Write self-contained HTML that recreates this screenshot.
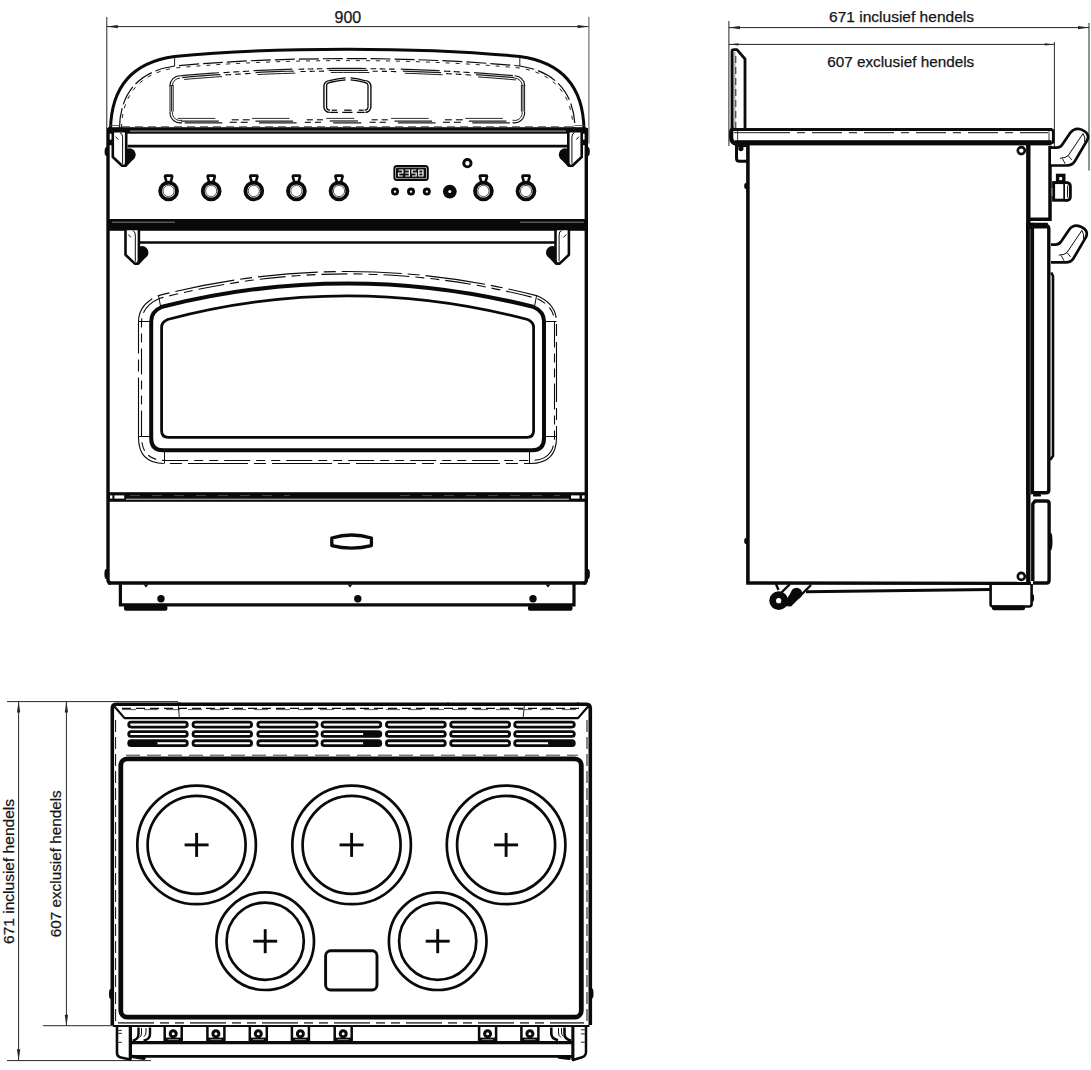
<!DOCTYPE html>
<html><head><meta charset="utf-8"><title>Range cooker dimensions</title>
<style>
html,body{margin:0;padding:0;background:#fff;}
body{width:1091px;height:1070px;overflow:hidden;font-family:"Liberation Sans",sans-serif;}
svg{display:block;}
svg text{font-family:"Liberation Sans",sans-serif;}
</style></head><body>
<svg width="1091" height="1070" viewBox="0 0 1091 1070">
<rect x="0" y="0" width="1091" height="1070" fill="#ffffff"/>
<line x1="106.8" y1="17" x2="106.8" y2="128" stroke="#262626" stroke-width="1.0" stroke-linecap="butt"/>
<line x1="588.9" y1="17" x2="588.9" y2="143.5" stroke="#555" stroke-width="1.0" stroke-linecap="butt"/>
<line x1="106.8" y1="26.6" x2="588.6" y2="26.6" stroke="#262626" stroke-width="1.0" stroke-linecap="butt"/>
<path d="M106.8,26.6 L117.8,24.900000000000002 L117.8,28.3 Z" fill="#262626"/>
<path d="M588.6,26.6 L577.6,24.900000000000002 L577.6,28.3 Z" fill="#262626"/>
<text x="347.9" y="23" font-size="16" text-anchor="middle" fill="#151515" stroke="#151515" stroke-width="0.25">900</text>
<path d="M110.5,130 C111,92 127,63 174.6,56.5 C240,50.2 300,49.2 347.3,49.2 C395,49.2 455,50.2 519.8,56.5 C567,63 583.5,92 584,130" stroke="#0a0a0a" stroke-width="3.0" fill="none" stroke-linejoin="round" stroke-linecap="butt"/>
<line x1="174.6" y1="56.5" x2="174.6" y2="66" stroke="#0a0a0a" stroke-width="0.9" stroke-linecap="butt"/>
<line x1="519.8" y1="56.5" x2="519.8" y2="66" stroke="#0a0a0a" stroke-width="0.9" stroke-linecap="butt"/>
<path d="M119.5,128 C120,98 134,72 174.6,66 C240,60 300,58.6 347.3,58.6 C395,58.6 455,60 519.8,66 C560,72 574.5,98 575,128" stroke="#0a0a0a" stroke-width="1.2" fill="none" stroke-linejoin="round" stroke-linecap="butt" stroke-dasharray="20 4"/>
<path d="M121.5,128 C122,99 136,74 174.6,68 C240,62 300,60.6 347.3,60.6 C395,60.6 455,62 519.8,68 C558,74 572.5,99 573,128" stroke="#0a0a0a" stroke-width="0.9" fill="none" stroke-linejoin="round" stroke-linecap="butt" stroke-dasharray="4 6"/>
<line x1="110" y1="125.5" x2="120" y2="125.5" stroke="#444" stroke-width="0.8" stroke-linecap="butt"/>
<line x1="574.5" y1="125.5" x2="584.5" y2="125.5" stroke="#444" stroke-width="0.8" stroke-linecap="butt"/>
<path d="M180.20,75.78 L186.67,75.22 L193.13,74.68 L199.60,74.17 L206.07,73.67 L212.53,73.20 L219.00,72.75" stroke="#1a1a1a" stroke-width="1.25" fill="none" stroke-linejoin="round" stroke-linecap="butt"/>
<path d="M182.20,77.51 L188.58,76.96 L194.97,76.44 L201.35,75.93 L207.73,75.45 L214.12,74.99 L220.50,74.55" stroke="#1a1a1a" stroke-width="1.25" fill="none" stroke-linejoin="round" stroke-linecap="butt"/>
<path d="M184.20,79.43 L190.50,78.90 L196.80,78.39 L203.10,77.90 L209.40,77.43 L215.70,76.98 L222.00,76.55" stroke="#1a1a1a" stroke-width="1.0" fill="none" stroke-linejoin="round" stroke-linecap="butt"/>
<path d="M253.50,70.73 L259.97,70.42 L266.43,70.13 L272.90,69.86 L279.37,69.62 L285.83,69.40 L292.30,69.20" stroke="#1a1a1a" stroke-width="1.25" fill="none" stroke-linejoin="round" stroke-linecap="butt"/>
<path d="M255.50,72.53 L261.88,72.23 L268.27,71.95 L274.65,71.70 L281.03,71.46 L287.42,71.25 L293.80,71.06" stroke="#1a1a1a" stroke-width="1.25" fill="none" stroke-linejoin="round" stroke-linecap="butt"/>
<path d="M257.50,74.53 L263.80,74.24 L270.10,73.98 L276.40,73.73 L282.70,73.50 L289.00,73.30 L295.30,73.11" stroke="#1a1a1a" stroke-width="1.0" fill="none" stroke-linejoin="round" stroke-linecap="butt"/>
<path d="M326.80,68.51 L333.38,68.45 L339.97,68.41 L346.55,68.40 L353.13,68.41 L359.72,68.44 L366.30,68.50" stroke="#1a1a1a" stroke-width="1.25" fill="none" stroke-linejoin="round" stroke-linecap="butt"/>
<path d="M328.80,70.39 L335.30,70.34 L341.80,70.31 L348.30,70.30 L354.80,70.31 L361.30,70.35 L367.80,70.41" stroke="#1a1a1a" stroke-width="1.25" fill="none" stroke-linejoin="round" stroke-linecap="butt"/>
<path d="M330.80,72.47 L337.22,72.43 L343.63,72.40 L350.05,72.40 L356.47,72.42 L362.88,72.46 L369.30,72.53" stroke="#1a1a1a" stroke-width="1.0" fill="none" stroke-linejoin="round" stroke-linecap="butt"/>
<path d="M400.80,69.16 L407.27,69.35 L413.73,69.57 L420.20,69.81 L426.67,70.07 L433.13,70.35 L439.60,70.65" stroke="#1a1a1a" stroke-width="1.25" fill="none" stroke-linejoin="round" stroke-linecap="butt"/>
<path d="M402.80,71.11 L409.18,71.31 L415.57,71.53 L421.95,71.77 L428.33,72.04 L434.72,72.32 L441.10,72.63" stroke="#1a1a1a" stroke-width="1.25" fill="none" stroke-linejoin="round" stroke-linecap="butt"/>
<path d="M404.80,73.27 L411.10,73.48 L417.40,73.70 L423.70,73.94 L430.00,74.21 L436.30,74.49 L442.60,74.80" stroke="#1a1a1a" stroke-width="1.0" fill="none" stroke-linejoin="round" stroke-linecap="butt"/>
<path d="M474.10,72.65 L480.57,73.10 L487.03,73.56 L493.50,74.05 L499.97,74.56 L506.43,75.10 L512.90,75.65" stroke="#1a1a1a" stroke-width="1.25" fill="none" stroke-linejoin="round" stroke-linecap="butt"/>
<path d="M476.10,74.69 L482.48,75.13 L488.87,75.60 L495.25,76.09 L501.63,76.60 L508.02,77.13 L514.40,77.68" stroke="#1a1a1a" stroke-width="1.25" fill="none" stroke-linejoin="round" stroke-linecap="butt"/>
<path d="M478.10,76.92 L484.40,77.37 L490.70,77.84 L497.00,78.32 L503.30,78.83 L509.60,79.36 L515.90,79.92" stroke="#1a1a1a" stroke-width="1.0" fill="none" stroke-linejoin="round" stroke-linecap="butt"/>
<path d="M223.50,72.65 L224.53,72.59 L225.56,72.52 L226.58,72.45 L227.61,72.39 L228.64,72.32 L229.67,72.26" stroke="#0a0a0a" stroke-width="1.1" fill="none" stroke-linejoin="round" stroke-linecap="butt"/>
<path d="M225.50,74.92 L226.44,74.86 L227.39,74.80 L228.33,74.74 L229.28,74.68 L230.22,74.62 L231.17,74.57" stroke="#0a0a0a" stroke-width="1.1" fill="none" stroke-linejoin="round" stroke-linecap="butt"/>
<path d="M233.17,72.04 L234.19,71.98 L235.22,71.92 L236.25,71.86 L237.28,71.80 L238.31,71.74 L239.33,71.68" stroke="#0a0a0a" stroke-width="1.1" fill="none" stroke-linejoin="round" stroke-linecap="butt"/>
<path d="M235.17,74.32 L236.11,74.27 L237.06,74.21 L238.00,74.16 L238.94,74.10 L239.89,74.05 L240.83,74.00" stroke="#0a0a0a" stroke-width="1.1" fill="none" stroke-linejoin="round" stroke-linecap="butt"/>
<path d="M242.83,71.49 L243.86,71.43 L244.89,71.37 L245.92,71.32 L246.94,71.26 L247.97,71.21 L249.00,71.15" stroke="#0a0a0a" stroke-width="1.1" fill="none" stroke-linejoin="round" stroke-linecap="butt"/>
<path d="M244.83,73.78 L245.78,73.72 L246.72,73.67 L247.67,73.62 L248.61,73.57 L249.56,73.53 L250.50,73.48" stroke="#0a0a0a" stroke-width="1.1" fill="none" stroke-linejoin="round" stroke-linecap="butt"/>
<path d="M298.50,69.23 L299.44,69.21 L300.39,69.18 L301.33,69.16 L302.28,69.14 L303.22,69.11 L304.17,69.09" stroke="#0a0a0a" stroke-width="1.1" fill="none" stroke-linejoin="round" stroke-linecap="butt"/>
<path d="M300.50,71.58 L301.36,71.56 L302.22,71.54 L303.08,71.52 L303.94,71.50 L304.81,71.48 L305.67,71.46" stroke="#0a0a0a" stroke-width="1.1" fill="none" stroke-linejoin="round" stroke-linecap="butt"/>
<path d="M307.67,69.02 L308.61,69.00 L309.56,68.98 L310.50,68.96 L311.44,68.94 L312.39,68.92 L313.33,68.91" stroke="#0a0a0a" stroke-width="1.1" fill="none" stroke-linejoin="round" stroke-linecap="butt"/>
<path d="M309.67,71.37 L310.53,71.36 L311.39,71.34 L312.25,71.32 L313.11,71.31 L313.97,71.29 L314.83,71.28" stroke="#0a0a0a" stroke-width="1.1" fill="none" stroke-linejoin="round" stroke-linecap="butt"/>
<path d="M316.83,68.85 L317.78,68.83 L318.72,68.82 L319.67,68.80 L320.61,68.79 L321.56,68.78 L322.50,68.76" stroke="#0a0a0a" stroke-width="1.1" fill="none" stroke-linejoin="round" stroke-linecap="butt"/>
<path d="M318.83,71.21 L319.69,71.20 L320.56,71.19 L321.42,71.18 L322.28,71.17 L323.14,71.15 L324.00,71.14" stroke="#0a0a0a" stroke-width="1.1" fill="none" stroke-linejoin="round" stroke-linecap="butt"/>
<path d="M370.60,68.74 L371.54,68.76 L372.49,68.77 L373.43,68.78 L374.38,68.79 L375.32,68.81 L376.27,68.82" stroke="#0a0a0a" stroke-width="1.1" fill="none" stroke-linejoin="round" stroke-linecap="butt"/>
<path d="M372.60,71.17 L373.46,71.18 L374.32,71.19 L375.18,71.21 L376.04,71.22 L376.91,71.23 L377.77,71.25" stroke="#0a0a0a" stroke-width="1.1" fill="none" stroke-linejoin="round" stroke-linecap="butt"/>
<path d="M379.77,68.88 L380.71,68.90 L381.66,68.91 L382.60,68.93 L383.54,68.95 L384.49,68.97 L385.43,68.98" stroke="#0a0a0a" stroke-width="1.1" fill="none" stroke-linejoin="round" stroke-linecap="butt"/>
<path d="M381.77,71.31 L382.63,71.33 L383.49,71.35 L384.35,71.36 L385.21,71.38 L386.07,71.40 L386.93,71.42" stroke="#0a0a0a" stroke-width="1.1" fill="none" stroke-linejoin="round" stroke-linecap="butt"/>
<path d="M388.93,69.06 L389.88,69.08 L390.82,69.10 L391.77,69.12 L392.71,69.15 L393.66,69.17 L394.60,69.19" stroke="#0a0a0a" stroke-width="1.1" fill="none" stroke-linejoin="round" stroke-linecap="butt"/>
<path d="M390.93,71.50 L391.79,71.52 L392.66,71.54 L393.52,71.56 L394.38,71.59 L395.24,71.61 L396.10,71.63" stroke="#0a0a0a" stroke-width="1.1" fill="none" stroke-linejoin="round" stroke-linecap="butt"/>
<path d="M444.10,71.08 L445.13,71.13 L446.16,71.18 L447.18,71.24 L448.21,71.29 L449.24,71.35 L450.27,71.40" stroke="#0a0a0a" stroke-width="1.1" fill="none" stroke-linejoin="round" stroke-linecap="butt"/>
<path d="M446.10,73.58 L447.04,73.63 L447.99,73.68 L448.93,73.73 L449.88,73.78 L450.82,73.83 L451.77,73.89" stroke="#0a0a0a" stroke-width="1.1" fill="none" stroke-linejoin="round" stroke-linecap="butt"/>
<path d="M453.77,71.60 L454.79,71.66 L455.82,71.71 L456.85,71.77 L457.88,71.83 L458.91,71.89 L459.93,71.95" stroke="#0a0a0a" stroke-width="1.1" fill="none" stroke-linejoin="round" stroke-linecap="butt"/>
<path d="M455.77,74.11 L456.71,74.16 L457.66,74.22 L458.60,74.28 L459.54,74.33 L460.49,74.39 L461.43,74.44" stroke="#0a0a0a" stroke-width="1.1" fill="none" stroke-linejoin="round" stroke-linecap="butt"/>
<path d="M463.43,72.17 L464.46,72.23 L465.49,72.29 L466.52,72.36 L467.54,72.42 L468.57,72.49 L469.60,72.55" stroke="#0a0a0a" stroke-width="1.1" fill="none" stroke-linejoin="round" stroke-linecap="butt"/>
<path d="M465.43,74.69 L466.38,74.75 L467.32,74.81 L468.27,74.87 L469.21,74.93 L470.16,74.99 L471.10,75.05" stroke="#0a0a0a" stroke-width="1.1" fill="none" stroke-linejoin="round" stroke-linecap="butt"/>
<line x1="184.7" y1="122.89999999999999" x2="222.3" y2="122.89999999999999" stroke="#1a1a1a" stroke-width="1.25" stroke-linecap="butt"/>
<line x1="181.2" y1="121.0" x2="218.8" y2="121.0" stroke="#1a1a1a" stroke-width="1.25" stroke-linecap="butt"/>
<line x1="177.7" y1="118.39999999999999" x2="215.3" y2="118.39999999999999" stroke="#1a1a1a" stroke-width="0.9" stroke-linecap="butt"/>
<line x1="259.0" y1="122.89999999999999" x2="296.6" y2="122.89999999999999" stroke="#1a1a1a" stroke-width="1.25" stroke-linecap="butt"/>
<line x1="255.5" y1="121.0" x2="293.1" y2="121.0" stroke="#1a1a1a" stroke-width="1.25" stroke-linecap="butt"/>
<line x1="252.0" y1="118.39999999999999" x2="289.6" y2="118.39999999999999" stroke="#1a1a1a" stroke-width="0.9" stroke-linecap="butt"/>
<line x1="333.2" y1="122.89999999999999" x2="361.4" y2="122.89999999999999" stroke="#1a1a1a" stroke-width="1.25" stroke-linecap="butt"/>
<line x1="329.7" y1="121.0" x2="357.9" y2="121.0" stroke="#1a1a1a" stroke-width="1.25" stroke-linecap="butt"/>
<line x1="326.2" y1="118.39999999999999" x2="354.4" y2="118.39999999999999" stroke="#1a1a1a" stroke-width="0.9" stroke-linecap="butt"/>
<line x1="398.0" y1="122.89999999999999" x2="435.6" y2="122.89999999999999" stroke="#1a1a1a" stroke-width="1.25" stroke-linecap="butt"/>
<line x1="394.5" y1="121.0" x2="432.1" y2="121.0" stroke="#1a1a1a" stroke-width="1.25" stroke-linecap="butt"/>
<line x1="391.0" y1="118.39999999999999" x2="428.6" y2="118.39999999999999" stroke="#1a1a1a" stroke-width="0.9" stroke-linecap="butt"/>
<line x1="472.3" y1="122.89999999999999" x2="509.9" y2="122.89999999999999" stroke="#1a1a1a" stroke-width="1.25" stroke-linecap="butt"/>
<line x1="468.8" y1="121.0" x2="506.4" y2="121.0" stroke="#1a1a1a" stroke-width="1.25" stroke-linecap="butt"/>
<line x1="465.3" y1="118.39999999999999" x2="502.9" y2="118.39999999999999" stroke="#1a1a1a" stroke-width="0.9" stroke-linecap="butt"/>
<line x1="229.7" y1="122.3" x2="236.7" y2="122.3" stroke="#0a0a0a" stroke-width="1.1" stroke-linecap="butt"/>
<line x1="231.7" y1="119.8" x2="238.7" y2="119.8" stroke="#0a0a0a" stroke-width="1.1" stroke-linecap="butt"/>
<line x1="240.7" y1="122.3" x2="247.7" y2="122.3" stroke="#0a0a0a" stroke-width="1.1" stroke-linecap="butt"/>
<line x1="242.7" y1="119.8" x2="249.7" y2="119.8" stroke="#0a0a0a" stroke-width="1.1" stroke-linecap="butt"/>
<line x1="304.8" y1="122.3" x2="310.9" y2="122.3" stroke="#0a0a0a" stroke-width="1.1" stroke-linecap="butt"/>
<line x1="306.8" y1="119.8" x2="312.9" y2="119.8" stroke="#0a0a0a" stroke-width="1.1" stroke-linecap="butt"/>
<line x1="314.9" y1="122.3" x2="321.0" y2="122.3" stroke="#0a0a0a" stroke-width="1.1" stroke-linecap="butt"/>
<line x1="316.9" y1="119.8" x2="323.0" y2="119.8" stroke="#0a0a0a" stroke-width="1.1" stroke-linecap="butt"/>
<line x1="369.6" y1="122.3" x2="375.70000000000005" y2="122.3" stroke="#0a0a0a" stroke-width="1.1" stroke-linecap="butt"/>
<line x1="371.6" y1="119.8" x2="377.70000000000005" y2="119.8" stroke="#0a0a0a" stroke-width="1.1" stroke-linecap="butt"/>
<line x1="379.70000000000005" y1="122.3" x2="385.80000000000007" y2="122.3" stroke="#0a0a0a" stroke-width="1.1" stroke-linecap="butt"/>
<line x1="381.70000000000005" y1="119.8" x2="387.80000000000007" y2="119.8" stroke="#0a0a0a" stroke-width="1.1" stroke-linecap="butt"/>
<line x1="442.9" y1="122.3" x2="449.9" y2="122.3" stroke="#0a0a0a" stroke-width="1.1" stroke-linecap="butt"/>
<line x1="444.9" y1="119.8" x2="451.9" y2="119.8" stroke="#0a0a0a" stroke-width="1.1" stroke-linecap="butt"/>
<line x1="453.9" y1="122.3" x2="460.9" y2="122.3" stroke="#0a0a0a" stroke-width="1.1" stroke-linecap="butt"/>
<line x1="455.9" y1="119.8" x2="462.9" y2="119.8" stroke="#0a0a0a" stroke-width="1.1" stroke-linecap="butt"/>
<line x1="170.0" y1="85" x2="170.0" y2="111.5" stroke="#1a1a1a" stroke-width="1.0" stroke-linecap="butt"/>
<line x1="524.6" y1="85" x2="524.6" y2="111.5" stroke="#1a1a1a" stroke-width="1.0" stroke-linecap="butt"/>
<line x1="171.6" y1="85" x2="171.6" y2="111.5" stroke="#1a1a1a" stroke-width="1.0" stroke-linecap="butt"/>
<line x1="523.0" y1="85" x2="523.0" y2="111.5" stroke="#1a1a1a" stroke-width="1.0" stroke-linecap="butt"/>
<line x1="173.2" y1="85" x2="173.2" y2="111.5" stroke="#1a1a1a" stroke-width="1.0" stroke-linecap="butt"/>
<line x1="521.4" y1="85" x2="521.4" y2="111.5" stroke="#1a1a1a" stroke-width="1.0" stroke-linecap="butt"/>
<path d="M170.0,85 V85.8 A10.0,10.0 0 0 1 180.0,75.8" stroke="#0a0a0a" stroke-width="1.1" fill="none" stroke-linejoin="round" stroke-linecap="butt"/>
<path d="M524.6,85 V85.8 A10.0,10.0 0 0 0 514.6,75.8" stroke="#0a0a0a" stroke-width="1.1" fill="none" stroke-linejoin="round" stroke-linecap="butt"/>
<path d="M170.0,111.5 V112.6 A10.0,10.0 0 0 0 182.0,122.6" stroke="#0a0a0a" stroke-width="1.1" fill="none" stroke-linejoin="round" stroke-linecap="butt"/>
<path d="M524.6,111.5 V112.6 A10.0,10.0 0 0 1 512.6,122.6" stroke="#0a0a0a" stroke-width="1.1" fill="none" stroke-linejoin="round" stroke-linecap="butt"/>
<path d="M172.4,85 V85.8 A7.6,7.6 0 0 1 180.0,78.2" stroke="#0a0a0a" stroke-width="0.9" fill="none" stroke-linejoin="round" stroke-linecap="butt"/>
<path d="M522.2,85 V85.8 A7.6,7.6 0 0 0 514.6,78.2" stroke="#0a0a0a" stroke-width="0.9" fill="none" stroke-linejoin="round" stroke-linecap="butt"/>
<path d="M172.4,111.5 V112.6 A7.6,7.6 0 0 0 182.0,120.19999999999999" stroke="#0a0a0a" stroke-width="0.9" fill="none" stroke-linejoin="round" stroke-linecap="butt"/>
<path d="M522.2,111.5 V112.6 A7.6,7.6 0 0 1 512.6,120.19999999999999" stroke="#0a0a0a" stroke-width="0.9" fill="none" stroke-linejoin="round" stroke-linecap="butt"/>
<line x1="122" y1="126.5" x2="573" y2="126.5" stroke="#555" stroke-width="0.8" stroke-linecap="butt" stroke-dasharray="8 5"/>
<path d="M329.5,80.6 A5.6,5.6 0 0 0 323.9,86.19999999999999 V106.80000000000001 A5.6,5.6 0 0 0 329.5,112.4" stroke="#0a0a0a" stroke-width="1.4" fill="none" stroke-linejoin="round" stroke-linecap="butt"/>
<path d="M365.29999999999995,80.6 A5.6,5.6 0 0 1 370.9,86.19999999999999 V106.80000000000001 A5.6,5.6 0 0 1 365.29999999999995,112.4" stroke="#0a0a0a" stroke-width="1.4" fill="none" stroke-linejoin="round" stroke-linecap="butt"/>
<path d="M330.0,82.6 A3.4,3.4 0 0 0 326.6,86.0 V106.8 A3.4,3.4 0 0 0 330.0,110.2" stroke="#0a0a0a" stroke-width="1.3" fill="none" stroke-linejoin="round" stroke-linecap="butt"/>
<path d="M364.6,82.6 A3.4,3.4 0 0 1 368.0,86.0 V106.8 A3.4,3.4 0 0 1 364.6,110.2" stroke="#0a0a0a" stroke-width="1.3" fill="none" stroke-linejoin="round" stroke-linecap="butt"/>
<path d="M329.4,80.6 Q338,78.4 345.6,77.9" stroke="#0a0a0a" stroke-width="1.3" fill="none" stroke-linejoin="round" stroke-linecap="butt"/>
<path d="M350.6,77.9 Q358,78.6 365.4,80.8" stroke="#0a0a0a" stroke-width="1.3" fill="none" stroke-linejoin="round" stroke-linecap="butt"/>
<line x1="329.8" y1="112.4" x2="337.9" y2="112.4" stroke="#0a0a0a" stroke-width="1.3" stroke-linecap="butt"/>
<line x1="342.3" y1="112.4" x2="352.5" y2="112.4" stroke="#0a0a0a" stroke-width="1.3" stroke-linecap="butt"/>
<line x1="356.9" y1="112.4" x2="364.6" y2="112.4" stroke="#0a0a0a" stroke-width="1.3" stroke-linecap="butt"/>
<path d="M329.4,82.5 Q338,80.30000000000001 345.6,79.80000000000001" stroke="#0a0a0a" stroke-width="1.3" fill="none" stroke-linejoin="round" stroke-linecap="butt"/>
<path d="M350.6,79.80000000000001 Q358,80.5 365.4,82.7" stroke="#0a0a0a" stroke-width="1.3" fill="none" stroke-linejoin="round" stroke-linecap="butt"/>
<line x1="331.7" y1="110.215" x2="336.95" y2="110.215" stroke="#0a0a0a" stroke-width="1.3" stroke-linecap="butt"/>
<line x1="344.2" y1="110.215" x2="351.55" y2="110.215" stroke="#0a0a0a" stroke-width="1.3" stroke-linecap="butt"/>
<line x1="358.79999999999995" y1="110.215" x2="363.65000000000003" y2="110.215" stroke="#0a0a0a" stroke-width="1.3" stroke-linecap="butt"/>
<path d="M108,128 V580 Q108,583 111,583" stroke="#0a0a0a" stroke-width="3.4" fill="none" stroke-linejoin="round" stroke-linecap="butt"/>
<path d="M586.3,128 V580 Q586.3,583 583.3,583" stroke="#0a0a0a" stroke-width="3.4" fill="none" stroke-linejoin="round" stroke-linecap="butt"/>
<rect x="108" y="127.2" width="478.29999999999995" height="6.5" rx="0" stroke="#0a0a0a" stroke-width="0" fill="#0a0a0a"/>
<line x1="130" y1="131.1" x2="566" y2="131.1" stroke="#c4c4c4" stroke-width="0.9" stroke-linecap="butt"/>
<line x1="127.5" y1="146.1" x2="567.2" y2="146.1" stroke="#0a0a0a" stroke-width="2.7" stroke-linecap="butt"/>
<rect x="108" y="219" width="478.29999999999995" height="11.8" rx="0" stroke="#0a0a0a" stroke-width="0" fill="#0a0a0a"/>
<line x1="112" y1="222.2" x2="175" y2="222.2" stroke="#aaa" stroke-width="0.7" stroke-linecap="butt"/>
<line x1="520" y1="222.2" x2="584" y2="222.2" stroke="#aaa" stroke-width="0.7" stroke-linecap="butt"/>
<line x1="140" y1="242.5" x2="555" y2="242.5" stroke="#0a0a0a" stroke-width="2.4" stroke-linecap="butt"/>
<rect x="108" y="492.2" width="478.29999999999995" height="9.6" rx="0" stroke="#0a0a0a" stroke-width="0" fill="#0a0a0a"/>
<line x1="110" y1="497" x2="112.4" y2="497" stroke="#fff" stroke-width="3.2" stroke-linecap="butt"/>
<line x1="114.4" y1="497" x2="124.2" y2="497" stroke="#fff" stroke-width="3.2" stroke-linecap="butt"/>
<line x1="571" y1="497" x2="579.5" y2="497" stroke="#fff" stroke-width="3.2" stroke-linecap="butt"/>
<line x1="582" y1="497" x2="584.6" y2="497" stroke="#fff" stroke-width="3.2" stroke-linecap="butt"/>
<line x1="130" y1="495.6" x2="290" y2="495.6" stroke="#777" stroke-width="0.6" stroke-linecap="butt" stroke-dasharray="10 12"/>
<line x1="126" y1="499.2" x2="569" y2="499.2" stroke="#d8d8d8" stroke-width="1.0" stroke-linecap="butt"/>
<line x1="400" y1="495.6" x2="560" y2="495.6" stroke="#777" stroke-width="0.6" stroke-linecap="butt" stroke-dasharray="10 12"/>
<ellipse cx="106.2" cy="574" rx="1.8" ry="5" fill="#0a0a0a"/>
<ellipse cx="588.1" cy="574" rx="1.8" ry="5" fill="#0a0a0a"/>
<line x1="108" y1="583" x2="586.3" y2="583" stroke="#0a0a0a" stroke-width="3.4" stroke-linecap="butt"/>
<path d="M120.4,584 V604.8 H574 V584" stroke="#0a0a0a" stroke-width="3.2" fill="none" stroke-linejoin="miter" stroke-linecap="butt"/>
<rect x="124" y="605.5" width="43.4" height="5.2" rx="1.8" stroke="#0a0a0a" stroke-width="0" fill="#0a0a0a"/>
<rect x="528" y="605.5" width="44.5" height="5.2" rx="1.8" stroke="#0a0a0a" stroke-width="0" fill="#0a0a0a"/>
<circle cx="161" cy="598.7" r="3.7" stroke="#0a0a0a" stroke-width="0" fill="#0a0a0a"/>
<circle cx="357.8" cy="598.7" r="3.7" stroke="#0a0a0a" stroke-width="0" fill="#0a0a0a"/>
<circle cx="533" cy="598.7" r="3.7" stroke="#0a0a0a" stroke-width="0" fill="#0a0a0a"/>
<path d="M143.5,584.5 L146,587.5 L148.5,584.5 Z" stroke="#0a0a0a" stroke-width="0" fill="#0a0a0a" stroke-linejoin="round" stroke-linecap="butt"/>
<path d="M347.5,584.5 L350,587.5 L352.5,584.5 Z" stroke="#0a0a0a" stroke-width="0" fill="#0a0a0a" stroke-linejoin="round" stroke-linecap="butt"/>
<path d="M545.5,584.5 L548,587.5 L550.5,584.5 Z" stroke="#0a0a0a" stroke-width="0" fill="#0a0a0a" stroke-linejoin="round" stroke-linecap="butt"/>
<path d="M331.8,538 Q351.6,532 371.4,538 V545.6 Q351.6,550.6 331.8,545.6 Z" stroke="#0a0a0a" stroke-width="3.3" fill="none" stroke-linejoin="round" stroke-linecap="butt"/>
<path d="M165.79999999999998,175.6 H171.4 Q172.6,175.6 172.0,177.4 L170.4,183.0 H166.79999999999998 L165.2,177.4 Q164.6,175.6 165.79999999999998,175.6 Z" stroke="#0a0a0a" stroke-width="2.6" fill="#fff" stroke-linejoin="round" stroke-linecap="butt"/>
<circle cx="168.6" cy="191.0" r="8.45" stroke="#0a0a0a" stroke-width="3.8" fill="none"/>
<circle cx="168.6" cy="191.0" r="5.6" stroke="#444" stroke-width="0.9" fill="none"/>
<path d="M208.39999999999998,175.6 H214.0 Q215.2,175.6 214.6,177.4 L213.0,183.0 H209.39999999999998 L207.79999999999998,177.4 Q207.2,175.6 208.39999999999998,175.6 Z" stroke="#0a0a0a" stroke-width="2.6" fill="#fff" stroke-linejoin="round" stroke-linecap="butt"/>
<circle cx="211.2" cy="191.0" r="8.45" stroke="#0a0a0a" stroke-width="3.8" fill="none"/>
<circle cx="211.2" cy="191.0" r="5.6" stroke="#444" stroke-width="0.9" fill="none"/>
<path d="M251.0,175.6 H256.6 Q257.8,175.6 257.2,177.4 L255.60000000000002,183.0 H252.0 L250.4,177.4 Q249.8,175.6 251.0,175.6 Z" stroke="#0a0a0a" stroke-width="2.6" fill="#fff" stroke-linejoin="round" stroke-linecap="butt"/>
<circle cx="253.8" cy="191.0" r="8.45" stroke="#0a0a0a" stroke-width="3.8" fill="none"/>
<circle cx="253.8" cy="191.0" r="5.6" stroke="#444" stroke-width="0.9" fill="none"/>
<path d="M293.59999999999997,175.6 H299.2 Q300.4,175.6 299.79999999999995,177.4 L298.2,183.0 H294.59999999999997 L293.0,177.4 Q292.4,175.6 293.59999999999997,175.6 Z" stroke="#0a0a0a" stroke-width="2.6" fill="#fff" stroke-linejoin="round" stroke-linecap="butt"/>
<circle cx="296.4" cy="191.0" r="8.45" stroke="#0a0a0a" stroke-width="3.8" fill="none"/>
<circle cx="296.4" cy="191.0" r="5.6" stroke="#444" stroke-width="0.9" fill="none"/>
<path d="M336.2,175.6 H341.8 Q343.0,175.6 342.4,177.4 L340.8,183.0 H337.2 L335.6,177.4 Q335.0,175.6 336.2,175.6 Z" stroke="#0a0a0a" stroke-width="2.6" fill="#fff" stroke-linejoin="round" stroke-linecap="butt"/>
<circle cx="339.0" cy="191.0" r="8.45" stroke="#0a0a0a" stroke-width="3.8" fill="none"/>
<circle cx="339.0" cy="191.0" r="5.6" stroke="#444" stroke-width="0.9" fill="none"/>
<path d="M480.59999999999997,175.6 H486.2 Q487.4,175.6 486.79999999999995,177.4 L485.2,183.0 H481.59999999999997 L480.0,177.4 Q479.4,175.6 480.59999999999997,175.6 Z" stroke="#0a0a0a" stroke-width="2.6" fill="#fff" stroke-linejoin="round" stroke-linecap="butt"/>
<circle cx="483.4" cy="191.0" r="8.45" stroke="#0a0a0a" stroke-width="3.8" fill="none"/>
<circle cx="483.4" cy="191.0" r="5.6" stroke="#444" stroke-width="0.9" fill="none"/>
<path d="M523.2,175.6 H528.8 Q530.0,175.6 529.4,177.4 L527.8,183.0 H524.2 L522.6,177.4 Q522.0,175.6 523.2,175.6 Z" stroke="#0a0a0a" stroke-width="2.6" fill="#fff" stroke-linejoin="round" stroke-linecap="butt"/>
<circle cx="526.0" cy="191.0" r="8.45" stroke="#0a0a0a" stroke-width="3.8" fill="none"/>
<circle cx="526.0" cy="191.0" r="5.6" stroke="#444" stroke-width="0.9" fill="none"/>
<rect x="394.4" y="166" width="33.4" height="14" rx="2.5" stroke="#0a0a0a" stroke-width="2.0" fill="none"/>
<rect x="396" y="167.6" width="30.2" height="10.8" rx="1.2" stroke="#0a0a0a" stroke-width="0" fill="#111"/>
<g stroke="#fff" stroke-width="1.2" fill="none"><path d="M398.6,170 h4.2 v3 h-4.2 v3 h4.2"/><path d="M405.2,170 h4.2 v6 h-4.2 M405.2,173 h4.2"/><path d="M416.2,170 h-4.2 v3 h4.2 v3 h-4.2"/><path d="M418.8,170 h4.2 v6 h-4.2 z M418.8,173 h4.2"/></g>
<circle cx="467.4" cy="163.2" r="3.65" stroke="#0a0a0a" stroke-width="2.9" fill="none"/>
<circle cx="395" cy="191.6" r="2.6" stroke="#0a0a0a" stroke-width="2.8" fill="none"/>
<circle cx="411" cy="191.6" r="2.6" stroke="#0a0a0a" stroke-width="2.8" fill="none"/>
<circle cx="426.8" cy="191.6" r="2.6" stroke="#0a0a0a" stroke-width="2.8" fill="none"/>
<circle cx="449.8" cy="191.6" r="6.9" stroke="#0a0a0a" stroke-width="0" fill="#0a0a0a"/>
<circle cx="449.8" cy="191.6" r="1.5" stroke="#0a0a0a" stroke-width="0" fill="#fff"/>
<circle cx="129.4" cy="154.6" r="6.3" stroke="#0a0a0a" stroke-width="0" fill="#0a0a0a"/>
<path d="M125.8,155.2 L134.8,157.7 L126.39999999999999,166.79999999999998 Z" stroke="#0a0a0a" stroke-width="0" fill="#0a0a0a" stroke-linejoin="round" stroke-linecap="butt"/>
<path d="M112.8,131.2 V157.0 L122.1,165.79999999999998 H125.6 L126.2,162.2 V131.2 Z" stroke="#0a0a0a" stroke-width="2.6" fill="#fff" stroke-linejoin="round" stroke-linecap="butt"/>
<path d="M120.0,132.79999999999998 Q122.6,133.2 122.6,137.2 V163.7" stroke="#0a0a0a" stroke-width="1.0" fill="none" stroke-linejoin="round" stroke-linecap="butt"/>
<line x1="115.6" y1="136.7" x2="118.2" y2="139.6" stroke="#0a0a0a" stroke-width="1.0" stroke-linecap="butt"/>
<circle cx="565.1" cy="154.6" r="6.3" stroke="#0a0a0a" stroke-width="0" fill="#0a0a0a"/>
<path d="M568.7,155.2 L559.7,157.7 L568.1,166.79999999999998 Z" stroke="#0a0a0a" stroke-width="0" fill="#0a0a0a" stroke-linejoin="round" stroke-linecap="butt"/>
<path d="M581.7,131.2 V157.0 L572.4000000000001,165.79999999999998 H568.9000000000001 L568.3000000000001,162.2 V131.2 Z" stroke="#0a0a0a" stroke-width="2.6" fill="#fff" stroke-linejoin="round" stroke-linecap="butt"/>
<path d="M574.5,132.79999999999998 Q571.9000000000001,133.2 571.9000000000001,137.2 V163.7" stroke="#0a0a0a" stroke-width="1.0" fill="none" stroke-linejoin="round" stroke-linecap="butt"/>
<line x1="578.9000000000001" y1="136.7" x2="576.3000000000001" y2="139.6" stroke="#0a0a0a" stroke-width="1.0" stroke-linecap="butt"/>
<circle cx="142.1" cy="252.4" r="6.3" stroke="#0a0a0a" stroke-width="0" fill="#0a0a0a"/>
<path d="M138.5,253 L147.5,255.5 L139.1,264.6 Z" stroke="#0a0a0a" stroke-width="0" fill="#0a0a0a" stroke-linejoin="round" stroke-linecap="butt"/>
<path d="M125.5,229 V254.8 L134.8,263.6 H138.3 L138.9,260 V229 Z" stroke="#0a0a0a" stroke-width="2.6" fill="#fff" stroke-linejoin="round" stroke-linecap="butt"/>
<path d="M132.7,230.6 Q135.3,231 135.3,235 V261.5" stroke="#0a0a0a" stroke-width="1.0" fill="none" stroke-linejoin="round" stroke-linecap="butt"/>
<line x1="128.3" y1="234.5" x2="130.9" y2="237.4" stroke="#0a0a0a" stroke-width="1.0" stroke-linecap="butt"/>
<circle cx="552.3" cy="252.4" r="6.3" stroke="#0a0a0a" stroke-width="0" fill="#0a0a0a"/>
<path d="M555.9,253 L546.9,255.5 L555.3,264.6 Z" stroke="#0a0a0a" stroke-width="0" fill="#0a0a0a" stroke-linejoin="round" stroke-linecap="butt"/>
<path d="M568.9,229 V254.8 L559.6,263.6 H556.1 L555.5,260 V229 Z" stroke="#0a0a0a" stroke-width="2.6" fill="#fff" stroke-linejoin="round" stroke-linecap="butt"/>
<path d="M561.6999999999999,230.6 Q559.1,231 559.1,235 V261.5" stroke="#0a0a0a" stroke-width="1.0" fill="none" stroke-linejoin="round" stroke-linecap="butt"/>
<line x1="566.1" y1="234.5" x2="563.5" y2="237.4" stroke="#0a0a0a" stroke-width="1.0" stroke-linecap="butt"/>
<ellipse cx="106.6" cy="151.5" rx="2" ry="4.6" fill="#0a0a0a"/>
<ellipse cx="587.8" cy="151.5" rx="2" ry="4.6" fill="#0a0a0a"/>
<rect x="109" y="139.6" width="3.2" height="5.6" rx="0" stroke="#0a0a0a" stroke-width="0" fill="#0a0a0a"/>
<rect x="582.6" y="139.6" width="3.2" height="5.6" rx="0" stroke="#0a0a0a" stroke-width="0" fill="#0a0a0a"/>
<path d="M138.5,437.5 V322.0 Q138.5,304 158.5,295.6 Q347.5,247.39999999999998 536.5,295.6 Q556.5,304 556.5,322.0 V437.5 Q556.5,463.5 530.5,463.5 H164.5 Q138.5,463.5 138.5,437.5 Z" stroke="#0a0a0a" stroke-width="1.1" fill="none" stroke-linejoin="round" stroke-linecap="butt" stroke-dasharray="60 6 12 6"/>
<path d="M141.5,436.5 V322.65 Q141.5,306 160.0,298.23 Q348.0,249.56999999999994 536.0,298.23 Q554.5,306 554.5,322.65 V436.5 Q554.5,460.5 530.5,460.5 H165.5 Q141.5,460.5 141.5,436.5 Z" stroke="#0a0a0a" stroke-width="1.1" fill="none" stroke-linejoin="round" stroke-linecap="butt" stroke-dasharray="26 6 9 6 9 6"/>
<line x1="138.5" y1="321.5" x2="150" y2="321.5" stroke="#0a0a0a" stroke-width="1.0" stroke-linecap="butt"/>
<line x1="138.5" y1="436.5" x2="150" y2="436.5" stroke="#0a0a0a" stroke-width="1.0" stroke-linecap="butt"/>
<line x1="545" y1="321.5" x2="556.5" y2="321.5" stroke="#0a0a0a" stroke-width="1.0" stroke-linecap="butt"/>
<line x1="545" y1="436.5" x2="556.5" y2="436.5" stroke="#0a0a0a" stroke-width="1.0" stroke-linecap="butt"/>
<line x1="164.5" y1="451" x2="164.5" y2="463.5" stroke="#0a0a0a" stroke-width="1.0" stroke-linecap="butt"/>
<line x1="529.5" y1="451" x2="529.5" y2="463.5" stroke="#0a0a0a" stroke-width="1.0" stroke-linecap="butt"/>
<line x1="158.6" y1="296" x2="160.5" y2="306" stroke="#0a0a0a" stroke-width="1.0" stroke-linecap="butt"/>
<line x1="536.5" y1="296" x2="534.6" y2="306" stroke="#0a0a0a" stroke-width="1.0" stroke-linecap="butt"/>
<path d="M151.2,438.2 V321.29999999999995 Q151.2,311.4 162.2,306.78 Q347.6,260.02 533,306.78 Q544,311.4 544,321.29999999999995 V438.2 Q544,450.2 532,450.2 H163.2 Q151.2,450.2 151.2,438.2 Z" stroke="#0a0a0a" stroke-width="4.0" fill="none" stroke-linejoin="round" stroke-linecap="butt"/>
<path d="M161.6,430.8 V327.4 Q161.6,322 167.6,319.48 Q347.6,272.12 527.6,319.48 Q533.6,322 533.6,327.4 V430.8 Q533.6,437.3 527.1,437.3 H168.1 Q161.6,437.3 161.6,430.8 Z" stroke="#0a0a0a" stroke-width="2.8" fill="none" stroke-linejoin="round" stroke-linecap="butt"/>
<line x1="728.9" y1="21" x2="728.9" y2="146" stroke="#262626" stroke-width="1.0" stroke-linecap="butt"/>
<line x1="1054.4" y1="42" x2="1054.4" y2="146.8" stroke="#262626" stroke-width="1.0" stroke-linecap="butt"/>
<line x1="1089" y1="23" x2="1089" y2="170.5" stroke="#262626" stroke-width="1.0" stroke-linecap="butt"/>
<line x1="728.9" y1="27.6" x2="1089" y2="27.6" stroke="#262626" stroke-width="1.0" stroke-linecap="butt"/>
<line x1="728.9" y1="44.4" x2="1054.4" y2="44.4" stroke="#262626" stroke-width="1.0" stroke-linecap="butt"/>
<path d="M728.9,27.6 L739.9,25.900000000000002 L739.9,29.3 Z" fill="#262626"/>
<path d="M1089,27.6 L1078,25.900000000000002 L1078,29.3 Z" fill="#262626"/>
<path d="M728.9,44.4 L738.5,43.199999999999996 L738.5,45.6 Z" fill="#262626"/>
<path d="M1054.4,44.4 L1044.8000000000002,43.199999999999996 L1044.8000000000002,45.6 Z" fill="#262626"/>
<text x="901.5" y="21.5" font-size="15" text-anchor="middle" fill="#151515" stroke="#151515" stroke-width="0.25" textLength="145" lengthAdjust="spacingAndGlyphs">671 inclusief hendels</text>
<text x="900.7" y="67" font-size="15" text-anchor="middle" fill="#151515" stroke="#151515" stroke-width="0.25" textLength="147" lengthAdjust="spacingAndGlyphs">607 exclusief hendels</text>
<rect x="733" y="52" width="2.6" height="76" rx="0" stroke="#0a0a0a" stroke-width="0" fill="#bbb"/>
<path d="M732,128 V51.5 Q732,49.6 734,49.6 H737 L745,59 V128" stroke="#0a0a0a" stroke-width="2.8" fill="none" stroke-linejoin="round" stroke-linecap="butt"/>
<line x1="735.8" y1="56" x2="735.8" y2="128" stroke="#0a0a0a" stroke-width="0.9" stroke-linecap="butt" stroke-dasharray="7 4"/>
<path d="M734,129.6 H1051 Q1053.2,129.6 1053.2,132 V141 Q1053.2,143 1051,143 H737" stroke="#0a0a0a" stroke-width="2.6" fill="none" stroke-linejoin="round" stroke-linecap="butt"/>
<path d="M733.5,128.8 Q731.2,129 731.2,133 V137.5 Q731.2,142.6 736,143.6" stroke="#0a0a0a" stroke-width="4.2" fill="none" stroke-linejoin="round" stroke-linecap="butt"/>
<rect x="732.5" y="128.1" width="319.5" height="2.9" rx="0" stroke="#0a0a0a" stroke-width="0" fill="#0a0a0a"/>
<rect x="735" y="140.2" width="316.5" height="5.2" rx="0" stroke="#0a0a0a" stroke-width="0" fill="#0a0a0a"/>
<line x1="734" y1="132.7" x2="760" y2="132.7" stroke="#0a0a0a" stroke-width="0.9" stroke-linecap="butt"/>
<line x1="760" y1="132.7" x2="1048" y2="132.7" stroke="#0a0a0a" stroke-width="1.0" stroke-linecap="butt" stroke-dasharray="30 7 8 7"/>
<line x1="1049" y1="131" x2="1049" y2="141" stroke="#0a0a0a" stroke-width="0.8" stroke-linecap="butt"/>
<line x1="737.6" y1="131" x2="737.6" y2="141" stroke="#0a0a0a" stroke-width="0.8" stroke-linecap="butt"/>
<path d="M736.5,145 V158.5 Q736.5,161.2 739.5,161.2 H747" stroke="#0a0a0a" stroke-width="3.0" fill="none" stroke-linejoin="round" stroke-linecap="butt"/>
<rect x="736" y="144.5" width="12" height="2.6" rx="0" stroke="#0a0a0a" stroke-width="0" fill="#0a0a0a"/>
<circle cx="740.9" cy="148.6" r="2.6" stroke="#0a0a0a" stroke-width="0" fill="#0a0a0a"/>
<line x1="747.9" y1="145" x2="747.9" y2="583" stroke="#0a0a0a" stroke-width="3.6" stroke-linecap="butt"/>
<ellipse cx="745.8" cy="186" rx="1.6" ry="3" fill="#0a0a0a"/>
<ellipse cx="745.8" cy="541" rx="1.6" ry="3" fill="#0a0a0a"/>
<line x1="746.2" y1="583" x2="1031" y2="583.4" stroke="#0a0a0a" stroke-width="3.4" stroke-linecap="butt"/>
<line x1="806" y1="591.8" x2="990" y2="589.6" stroke="#0a0a0a" stroke-width="3.0" stroke-linecap="butt"/>
<circle cx="778.7" cy="600.7" r="6.0" stroke="#0a0a0a" stroke-width="6.8" fill="none"/>
<circle cx="778.7" cy="600.7" r="2.3" stroke="#0a0a0a" stroke-width="0" fill="#fff"/>
<circle cx="796.5" cy="593.3" r="5.6" stroke="#0a0a0a" stroke-width="0" fill="#0a0a0a"/>
<path d="M791,592 L801.5,596 L791,606.5 L783,606 Z" stroke="#0a0a0a" stroke-width="0" fill="#0a0a0a" stroke-linejoin="round" stroke-linecap="butt"/>
<line x1="776" y1="584" x2="778.5" y2="590" stroke="#0a0a0a" stroke-width="2.4" stroke-linecap="butt"/>
<line x1="790" y1="584" x2="780.5" y2="593.5" stroke="#0a0a0a" stroke-width="2.4" stroke-linecap="butt"/>
<line x1="811" y1="585" x2="798" y2="598" stroke="#0a0a0a" stroke-width="2.4" stroke-linecap="butt"/>
<rect x="1026.1" y="145" width="4.4" height="438" rx="0" stroke="#0a0a0a" stroke-width="0" fill="#0a0a0a"/>
<path d="M1028,219.2 H1050 V146" stroke="#0a0a0a" stroke-width="3.5" fill="none" stroke-linejoin="miter" stroke-linecap="butt"/>
<circle cx="1021.3" cy="150.6" r="3.5" stroke="#0a0a0a" stroke-width="2.6" fill="none"/>
<circle cx="1021.3" cy="576.4" r="3.5" stroke="#0a0a0a" stroke-width="2.6" fill="none"/>
<rect x="1026.1" y="222.8" width="8" height="271.5" rx="0" stroke="#0a0a0a" stroke-width="0" fill="#0a0a0a"/>
<line x1="1030.2" y1="229" x2="1030.2" y2="494" stroke="#999" stroke-width="0.6" stroke-linecap="butt"/>
<path d="M1030,225.6 H1046 Q1048.8,225.6 1048.8,229 V490 Q1048.8,492.8 1046,492.8 H1034" stroke="#0a0a0a" stroke-width="3.4" fill="none" stroke-linejoin="round" stroke-linecap="butt"/>
<rect x="1033" y="494" width="8" height="2.6" rx="1.2" stroke="#0a0a0a" stroke-width="0" fill="#0a0a0a"/>
<rect x="1030" y="222.8" width="18" height="5.6" rx="1" stroke="#0a0a0a" stroke-width="0" fill="#0a0a0a"/>
<path d="M1051.2,272.5 L1053,276 V456 L1050,460" stroke="#0a0a0a" stroke-width="2.6" fill="none" stroke-linejoin="round" stroke-linecap="butt"/>
<path d="M1032.8,581 V504 L1035,501 H1046.6 Q1049.1,501 1049.1,503.6 V580 Q1049.1,583 1046.6,583 H1033" stroke="#0a0a0a" stroke-width="3.4" fill="none" stroke-linejoin="round" stroke-linecap="butt"/>
<ellipse cx="1050.9" cy="541.5" rx="1.6" ry="9" fill="#0a0a0a"/>
<path d="M990.6,584 V604 Q990.6,606.5 993,606.5 H1029 Q1031.6,606.5 1031.6,604 V584" stroke="#0a0a0a" stroke-width="2.6" fill="none" stroke-linejoin="round" stroke-linecap="butt"/>
<rect x="992" y="605.4" width="33" height="4.8" rx="2" stroke="#0a0a0a" stroke-width="0" fill="#0a0a0a"/>
<ellipse cx="1032.5" cy="598" rx="1.6" ry="4" fill="#0a0a0a"/>
<path d="M1051,147.7 H1056.50 Q1060.00,147.7 1062.00,145 L1070.30,132.8 Q1074.00,128 1079.50,129 Q1090.50,132.5 1087.30,140 L1074.60,161.6 Q1072.00,165.5 1067.00,165.5 H1051" stroke="#0a0a0a" stroke-width="2.7" fill="#fff" stroke-linejoin="round" stroke-linecap="butt"/>
<path d="M1060.00,158.3 Q1066.00,158 1068.20,155.6 L1083.00,133.6" stroke="#0a0a0a" stroke-width="1.0" fill="none" stroke-linejoin="round" stroke-linecap="butt"/>
<path d="M1083.00,133.4 Q1085.50,137 1084.80,142" stroke="#0a0a0a" stroke-width="1.0" fill="none" stroke-linejoin="round" stroke-linecap="butt"/>
<path d="M1068.20,155.6 L1071.80,160" stroke="#0a0a0a" stroke-width="0.9" fill="none" stroke-linejoin="round" stroke-linecap="butt"/>
<path d="M1062.40,158.6 L1065.20,163.8" stroke="#0a0a0a" stroke-width="0.9" fill="none" stroke-linejoin="round" stroke-linecap="butt"/>
<path d="M1051,244.6 H1055.30 Q1058.80,244.6 1060.80,241.9 L1069.10,229.70000000000002 Q1072.80,224.9 1078.30,225.9 Q1089.30,229.4 1086.10,236.9 L1073.40,258.5 Q1070.80,262.4 1065.80,262.4 H1051" stroke="#0a0a0a" stroke-width="2.7" fill="#fff" stroke-linejoin="round" stroke-linecap="butt"/>
<path d="M1058.80,255.20000000000002 Q1064.80,254.9 1067.00,252.5 L1081.80,230.5" stroke="#0a0a0a" stroke-width="1.0" fill="none" stroke-linejoin="round" stroke-linecap="butt"/>
<path d="M1081.80,230.3 Q1084.30,233.9 1083.60,238.9" stroke="#0a0a0a" stroke-width="1.0" fill="none" stroke-linejoin="round" stroke-linecap="butt"/>
<path d="M1067.00,252.5 L1070.60,256.9" stroke="#0a0a0a" stroke-width="0.9" fill="none" stroke-linejoin="round" stroke-linecap="butt"/>
<path d="M1061.20,255.5 L1064.00,260.70000000000005" stroke="#0a0a0a" stroke-width="0.9" fill="none" stroke-linejoin="round" stroke-linecap="butt"/>
<rect x="1053.6" y="182.6" width="11.2" height="17.6" rx="0" stroke="#0a0a0a" stroke-width="3.0" fill="#fff"/>
<path d="M1065,182.6 H1067.5 Q1070.4,183.4 1070.4,186.5 V196.5 Q1070.4,199.6 1067.5,200.4 H1065" stroke="#0a0a0a" stroke-width="2.8" fill="#fff" stroke-linejoin="round" stroke-linecap="butt"/>
<line x1="1067.6" y1="185.5" x2="1067.6" y2="197.5" stroke="#0a0a0a" stroke-width="1.0" stroke-linecap="butt"/>
<rect x="1057.6" y="175.4" width="6.2" height="6.4" rx="0" stroke="#0a0a0a" stroke-width="3.4" fill="#fff"/>
<rect x="1056.2" y="174.2" width="9" height="2.4" rx="1" stroke="#0a0a0a" stroke-width="0" fill="#0a0a0a"/>
<line x1="1052" y1="188" x2="1052" y2="196" stroke="#777" stroke-width="1.6" stroke-linecap="butt"/>
<line x1="7" y1="701.6" x2="178" y2="701.6" stroke="#262626" stroke-width="1.0" stroke-linecap="butt"/>
<line x1="43" y1="1025.7" x2="117" y2="1025.7" stroke="#262626" stroke-width="1.0" stroke-linecap="butt"/>
<line x1="7" y1="1060.6" x2="151" y2="1060.6" stroke="#262626" stroke-width="1.0" stroke-linecap="butt"/>
<line x1="18.6" y1="701.6" x2="18.6" y2="1060.2" stroke="#262626" stroke-width="1.0" stroke-linecap="butt"/>
<line x1="66.4" y1="701.6" x2="66.4" y2="1025.7" stroke="#262626" stroke-width="1.0" stroke-linecap="butt"/>
<path d="M18.6,701.6 L16.900000000000002,712.6 L20.3,712.6 Z" fill="#262626"/>
<path d="M18.6,1060.2 L16.900000000000002,1049.2 L20.3,1049.2 Z" fill="#262626"/>
<path d="M66.4,701.6 L64.7,712.6 L68.10000000000001,712.6 Z" fill="#262626"/>
<path d="M66.4,1025.7 L64.7,1014.7 L68.10000000000001,1014.7 Z" fill="#262626"/>
<text x="13.6" y="871.5" font-size="15" text-anchor="middle" fill="#151515" stroke="#151515" stroke-width="0.25" textLength="145" lengthAdjust="spacingAndGlyphs" transform="rotate(-90 13.6 871.5)">671 inclusief hendels</text>
<text x="60.9" y="863.8" font-size="15" text-anchor="middle" fill="#151515" stroke="#151515" stroke-width="0.25" textLength="147" lengthAdjust="spacingAndGlyphs" transform="rotate(-90 60.9 863.8)">607 exclusief hendels</text>
<path d="M112.3,1025 V708.5 Q112.3,704.3 116,704.3 H586.6 Q590.3,704.3 590.3,708.5 V1025" stroke="#0a0a0a" stroke-width="3.6" fill="none" stroke-linejoin="round" stroke-linecap="butt"/>
<ellipse cx="110.5" cy="994" rx="1.5" ry="5" fill="#0a0a0a"/>
<ellipse cx="592" cy="993.5" rx="1.5" ry="5" fill="#0a0a0a"/>
<path d="M114,706 L124.5,718.1 H578 L588.5,706" stroke="#0a0a0a" stroke-width="2.2" fill="none" stroke-linejoin="round" stroke-linecap="butt"/>
<line x1="122" y1="708.4" x2="582" y2="708.4" stroke="#0a0a0a" stroke-width="1.1" stroke-linecap="butt" stroke-dasharray="9 5"/>
<line x1="122" y1="709.6" x2="582" y2="709.6" stroke="#555" stroke-width="1.0" stroke-linecap="butt" stroke-dasharray="14 8"/>
<line x1="178" y1="702" x2="179.5" y2="719" stroke="#0a0a0a" stroke-width="0.9" stroke-linecap="butt"/>
<line x1="524.5" y1="704" x2="523" y2="719" stroke="#0a0a0a" stroke-width="0.9" stroke-linecap="butt"/>
<path d="M177.5,704.5 L180,702 L182.5,704.5 Z" stroke="#0a0a0a" stroke-width="0" fill="#0a0a0a" stroke-linejoin="round" stroke-linecap="butt"/>
<path d="M445.5,704.5 L448,702 L450.5,704.5 Z" stroke="#0a0a0a" stroke-width="0" fill="#0a0a0a" stroke-linejoin="round" stroke-linecap="butt"/>
<path d="M575.5,704.5 L578,702 L580.5,704.5 Z" stroke="#0a0a0a" stroke-width="0" fill="#0a0a0a" stroke-linejoin="round" stroke-linecap="butt"/>
<line x1="115.6" y1="720" x2="115.6" y2="1022" stroke="#0a0a0a" stroke-width="1.0" stroke-linecap="butt" stroke-dasharray="12 5"/>
<line x1="587" y1="720" x2="587" y2="1022" stroke="#0a0a0a" stroke-width="1.0" stroke-linecap="butt" stroke-dasharray="12 5"/>
<rect x="128.7" y="722.15" width="58.6" height="4.9" rx="2.45" stroke="#0a0a0a" stroke-width="2.8" fill="none"/>
<rect x="128.7" y="731.55" width="58.6" height="4.9" rx="2.45" stroke="#0a0a0a" stroke-width="2.8" fill="none"/>
<rect x="128.7" y="740.75" width="58.6" height="4.9" rx="2.45" stroke="#0a0a0a" stroke-width="2.8" fill="none"/>
<rect x="193.0" y="722.15" width="58.6" height="4.9" rx="2.45" stroke="#0a0a0a" stroke-width="2.8" fill="none"/>
<rect x="193.0" y="731.55" width="58.6" height="4.9" rx="2.45" stroke="#0a0a0a" stroke-width="2.8" fill="none"/>
<rect x="193.0" y="740.75" width="58.6" height="4.9" rx="2.45" stroke="#0a0a0a" stroke-width="2.8" fill="none"/>
<rect x="257.8" y="722.15" width="59.399999999999956" height="4.9" rx="2.45" stroke="#0a0a0a" stroke-width="2.8" fill="none"/>
<rect x="257.8" y="731.55" width="59.399999999999956" height="4.9" rx="2.45" stroke="#0a0a0a" stroke-width="2.8" fill="none"/>
<rect x="257.8" y="740.75" width="59.399999999999956" height="4.9" rx="2.45" stroke="#0a0a0a" stroke-width="2.8" fill="none"/>
<rect x="322.0" y="722.15" width="58.79999999999999" height="4.9" rx="2.45" stroke="#0a0a0a" stroke-width="2.8" fill="none"/>
<rect x="322.0" y="731.55" width="58.79999999999999" height="4.9" rx="2.45" stroke="#0a0a0a" stroke-width="2.8" fill="none"/>
<rect x="322.0" y="740.75" width="58.79999999999999" height="4.9" rx="2.45" stroke="#0a0a0a" stroke-width="2.8" fill="none"/>
<rect x="386.4" y="722.15" width="58.90000000000001" height="4.9" rx="2.45" stroke="#0a0a0a" stroke-width="2.8" fill="none"/>
<rect x="386.4" y="731.55" width="58.90000000000001" height="4.9" rx="2.45" stroke="#0a0a0a" stroke-width="2.8" fill="none"/>
<rect x="386.4" y="740.75" width="58.90000000000001" height="4.9" rx="2.45" stroke="#0a0a0a" stroke-width="2.8" fill="none"/>
<rect x="450.7" y="722.15" width="58.90000000000001" height="4.9" rx="2.45" stroke="#0a0a0a" stroke-width="2.8" fill="none"/>
<rect x="450.7" y="731.55" width="58.90000000000001" height="4.9" rx="2.45" stroke="#0a0a0a" stroke-width="2.8" fill="none"/>
<rect x="450.7" y="740.75" width="58.90000000000001" height="4.9" rx="2.45" stroke="#0a0a0a" stroke-width="2.8" fill="none"/>
<rect x="514.7" y="722.15" width="59.6" height="4.9" rx="2.45" stroke="#0a0a0a" stroke-width="2.8" fill="none"/>
<rect x="514.7" y="731.55" width="59.6" height="4.9" rx="2.45" stroke="#0a0a0a" stroke-width="2.8" fill="none"/>
<rect x="514.7" y="740.75" width="59.6" height="4.9" rx="2.45" stroke="#0a0a0a" stroke-width="2.8" fill="none"/>
<rect x="129.5" y="741.3" width="28" height="3.8" rx="1.9" stroke="#0a0a0a" stroke-width="0" fill="#0a0a0a"/>
<rect x="363" y="732.1" width="17" height="3.8" rx="1.9" stroke="#0a0a0a" stroke-width="0" fill="#0a0a0a"/>
<rect x="363" y="741.3" width="17" height="3.8" rx="1.9" stroke="#0a0a0a" stroke-width="0" fill="#0a0a0a"/>
<rect x="548" y="741.3" width="25" height="3.8" rx="1.9" stroke="#0a0a0a" stroke-width="0" fill="#0a0a0a"/>
<line x1="126" y1="755.2" x2="578" y2="755.2" stroke="#222" stroke-width="0.9" stroke-linecap="butt" stroke-dasharray="14 7"/>
<rect x="120.8" y="758.9" width="460.5" height="258.3" rx="6.5" stroke="#0a0a0a" stroke-width="4.8" fill="none"/>
<circle cx="196.6" cy="844.9" r="59.3" stroke="#0a0a0a" stroke-width="2.7" fill="none"/>
<circle cx="196.6" cy="844.9" r="49" stroke="#0a0a0a" stroke-width="2.7" fill="none"/>
<line x1="184.6" y1="844.9" x2="208.6" y2="844.9" stroke="#0a0a0a" stroke-width="2.9" stroke-linecap="butt"/>
<line x1="196.6" y1="832.9" x2="196.6" y2="856.9" stroke="#0a0a0a" stroke-width="2.9" stroke-linecap="butt"/>
<circle cx="351.6" cy="844.9" r="59.3" stroke="#0a0a0a" stroke-width="2.7" fill="none"/>
<circle cx="351.6" cy="844.9" r="49" stroke="#0a0a0a" stroke-width="2.7" fill="none"/>
<line x1="339.6" y1="844.9" x2="363.6" y2="844.9" stroke="#0a0a0a" stroke-width="2.9" stroke-linecap="butt"/>
<line x1="351.6" y1="832.9" x2="351.6" y2="856.9" stroke="#0a0a0a" stroke-width="2.9" stroke-linecap="butt"/>
<circle cx="506.1" cy="844.9" r="59.3" stroke="#0a0a0a" stroke-width="2.7" fill="none"/>
<circle cx="506.1" cy="844.9" r="49" stroke="#0a0a0a" stroke-width="2.7" fill="none"/>
<line x1="494.1" y1="844.9" x2="518.1" y2="844.9" stroke="#0a0a0a" stroke-width="2.9" stroke-linecap="butt"/>
<line x1="506.1" y1="832.9" x2="506.1" y2="856.9" stroke="#0a0a0a" stroke-width="2.9" stroke-linecap="butt"/>
<circle cx="265.2" cy="941.2" r="48.8" stroke="#0a0a0a" stroke-width="2.7" fill="none"/>
<circle cx="265.2" cy="941.2" r="38.6" stroke="#0a0a0a" stroke-width="2.7" fill="none"/>
<line x1="253.2" y1="941.2" x2="277.2" y2="941.2" stroke="#0a0a0a" stroke-width="2.9" stroke-linecap="butt"/>
<line x1="265.2" y1="929.2" x2="265.2" y2="953.2" stroke="#0a0a0a" stroke-width="2.9" stroke-linecap="butt"/>
<circle cx="437.7" cy="941.2" r="48.8" stroke="#0a0a0a" stroke-width="2.7" fill="none"/>
<circle cx="437.7" cy="941.2" r="38.6" stroke="#0a0a0a" stroke-width="2.7" fill="none"/>
<line x1="425.7" y1="941.2" x2="449.7" y2="941.2" stroke="#0a0a0a" stroke-width="2.9" stroke-linecap="butt"/>
<line x1="437.7" y1="929.2" x2="437.7" y2="953.2" stroke="#0a0a0a" stroke-width="2.9" stroke-linecap="butt"/>
<rect x="325.6" y="950.8" width="51.4" height="39.2" rx="5" stroke="#0a0a0a" stroke-width="2.9" fill="none"/>
<line x1="118" y1="1022.9" x2="584" y2="1022.9" stroke="#555" stroke-width="1.7" stroke-linecap="butt" stroke-dasharray="36 6 9 6 9 6"/>
<line x1="113" y1="1026.1" x2="589.5" y2="1026.1" stroke="#0a0a0a" stroke-width="2.0" stroke-linecap="butt"/>
<line x1="131" y1="1042.7" x2="572" y2="1042.7" stroke="#0a0a0a" stroke-width="3.2" stroke-linecap="butt"/>
<line x1="131" y1="1056.4" x2="572" y2="1056.4" stroke="#0a0a0a" stroke-width="2.6" stroke-linecap="butt"/>
<path d="M164.7,1042 V1027 M181.7,1027 V1042" stroke="#0a0a0a" stroke-width="2.5" fill="none" stroke-linejoin="round" stroke-linecap="butt"/>
<circle cx="173.2" cy="1033.7" r="3.0" stroke="#0a0a0a" stroke-width="3.0" fill="none"/>
<rect x="164.7" y="1037.6" width="17" height="4.2" rx="0" stroke="#0a0a0a" stroke-width="0" fill="#0a0a0a"/>
<line x1="167.7" y1="1039.6" x2="178.7" y2="1039.6" stroke="#aaa" stroke-width="0.8" stroke-linecap="butt"/>
<path d="M207.4,1042 V1027 M224.4,1027 V1042" stroke="#0a0a0a" stroke-width="2.5" fill="none" stroke-linejoin="round" stroke-linecap="butt"/>
<circle cx="215.9" cy="1033.7" r="3.0" stroke="#0a0a0a" stroke-width="3.0" fill="none"/>
<rect x="207.4" y="1037.6" width="17" height="4.2" rx="0" stroke="#0a0a0a" stroke-width="0" fill="#0a0a0a"/>
<line x1="210.4" y1="1039.6" x2="221.4" y2="1039.6" stroke="#aaa" stroke-width="0.8" stroke-linecap="butt"/>
<path d="M249.8,1042 V1027 M266.8,1027 V1042" stroke="#0a0a0a" stroke-width="2.5" fill="none" stroke-linejoin="round" stroke-linecap="butt"/>
<circle cx="258.3" cy="1033.7" r="3.0" stroke="#0a0a0a" stroke-width="3.0" fill="none"/>
<rect x="249.8" y="1037.6" width="17" height="4.2" rx="0" stroke="#0a0a0a" stroke-width="0" fill="#0a0a0a"/>
<line x1="252.8" y1="1039.6" x2="263.8" y2="1039.6" stroke="#aaa" stroke-width="0.8" stroke-linecap="butt"/>
<path d="M291.9,1042 V1027 M308.9,1027 V1042" stroke="#0a0a0a" stroke-width="2.5" fill="none" stroke-linejoin="round" stroke-linecap="butt"/>
<circle cx="300.4" cy="1033.7" r="3.0" stroke="#0a0a0a" stroke-width="3.0" fill="none"/>
<rect x="291.9" y="1037.6" width="17" height="4.2" rx="0" stroke="#0a0a0a" stroke-width="0" fill="#0a0a0a"/>
<line x1="294.9" y1="1039.6" x2="305.9" y2="1039.6" stroke="#aaa" stroke-width="0.8" stroke-linecap="butt"/>
<path d="M334.7,1042 V1027 M351.7,1027 V1042" stroke="#0a0a0a" stroke-width="2.5" fill="none" stroke-linejoin="round" stroke-linecap="butt"/>
<circle cx="343.2" cy="1033.7" r="3.0" stroke="#0a0a0a" stroke-width="3.0" fill="none"/>
<rect x="334.7" y="1037.6" width="17" height="4.2" rx="0" stroke="#0a0a0a" stroke-width="0" fill="#0a0a0a"/>
<line x1="337.7" y1="1039.6" x2="348.7" y2="1039.6" stroke="#aaa" stroke-width="0.8" stroke-linecap="butt"/>
<path d="M479.1,1042 V1027 M496.1,1027 V1042" stroke="#0a0a0a" stroke-width="2.5" fill="none" stroke-linejoin="round" stroke-linecap="butt"/>
<circle cx="487.6" cy="1033.7" r="3.0" stroke="#0a0a0a" stroke-width="3.0" fill="none"/>
<rect x="479.1" y="1037.6" width="17" height="4.2" rx="0" stroke="#0a0a0a" stroke-width="0" fill="#0a0a0a"/>
<line x1="482.1" y1="1039.6" x2="493.1" y2="1039.6" stroke="#aaa" stroke-width="0.8" stroke-linecap="butt"/>
<path d="M521.4,1042 V1027 M538.4,1027 V1042" stroke="#0a0a0a" stroke-width="2.5" fill="none" stroke-linejoin="round" stroke-linecap="butt"/>
<circle cx="529.9" cy="1033.7" r="3.0" stroke="#0a0a0a" stroke-width="3.0" fill="none"/>
<rect x="521.4" y="1037.6" width="17" height="4.2" rx="0" stroke="#0a0a0a" stroke-width="0" fill="#0a0a0a"/>
<line x1="524.4" y1="1039.6" x2="535.4" y2="1039.6" stroke="#aaa" stroke-width="0.8" stroke-linecap="butt"/>
<path d="M117,1027 V1053 Q117,1056.5 121,1057.6 L130.2,1059.6 V1027" stroke="#0a0a0a" stroke-width="2.6" fill="none" stroke-linejoin="round" stroke-linecap="butt"/>
<line x1="130.4" y1="1027" x2="130.4" y2="1059" stroke="#0a0a0a" stroke-width="3.2" stroke-linecap="butt"/>
<line x1="118.3" y1="1030.4" x2="121.8" y2="1030.4" stroke="#0a0a0a" stroke-width="0.9" stroke-linecap="butt"/>
<line x1="118.3" y1="1033.4" x2="121.8" y2="1033.4" stroke="#0a0a0a" stroke-width="0.9" stroke-linecap="butt"/>
<line x1="118.3" y1="1042.3" x2="121.8" y2="1042.3" stroke="#0a0a0a" stroke-width="0.9" stroke-linecap="butt"/>
<path d="M138.5,1027.5 V1034 Q138.5,1039.6 132.6,1040.6" stroke="#0a0a0a" stroke-width="2.4" fill="none" stroke-linejoin="round" stroke-linecap="butt"/>
<path d="M150,1027.5 V1034 Q150,1039.6 143.5,1040.6" stroke="#0a0a0a" stroke-width="2.4" fill="none" stroke-linejoin="round" stroke-linecap="butt"/>
<path d="M141.5,1028 V1033 Q141.5,1036 139.5,1037.5" stroke="#0a0a0a" stroke-width="1.0" fill="none" stroke-linejoin="round" stroke-linecap="butt"/>
<path d="M146,1028 V1032 Q146,1035 144,1036.5" stroke="#0a0a0a" stroke-width="1.0" fill="none" stroke-linejoin="round" stroke-linecap="butt"/>
<path d="M133,1056.5 L144,1058.2" stroke="#0a0a0a" stroke-width="3.4" fill="none" stroke-linejoin="round" stroke-linecap="round"/>
<path d="M586,1027 V1052 Q586,1056 582,1057.2 L573,1060 V1027" stroke="#0a0a0a" stroke-width="2.5" fill="none" stroke-linejoin="round" stroke-linecap="butt"/>
<line x1="572.8" y1="1027" x2="572.8" y2="1060" stroke="#0a0a0a" stroke-width="2.8" stroke-linecap="butt"/>
<line x1="581" y1="1029.8" x2="584.7" y2="1029.8" stroke="#0a0a0a" stroke-width="0.9" stroke-linecap="butt"/>
<line x1="581" y1="1033.9" x2="584.7" y2="1033.9" stroke="#0a0a0a" stroke-width="0.9" stroke-linecap="butt"/>
<line x1="581" y1="1042.2" x2="584.7" y2="1042.2" stroke="#0a0a0a" stroke-width="0.9" stroke-linecap="butt"/>
<path d="M551.3,1027.5 V1033.6 Q551.3,1039 558,1040.2" stroke="#0a0a0a" stroke-width="2.6" fill="none" stroke-linejoin="round" stroke-linecap="butt"/>
<path d="M564.5,1027.5 V1033.6 Q564.5,1039.6 571,1040.6" stroke="#0a0a0a" stroke-width="2.6" fill="none" stroke-linejoin="round" stroke-linecap="butt"/>
<path d="M558.5,1028 V1033 Q558.5,1036 561,1037.5" stroke="#0a0a0a" stroke-width="1.0" fill="none" stroke-linejoin="round" stroke-linecap="butt"/>
<path d="M561.5,1028 V1032 Q561.5,1035 563.5,1036.5" stroke="#0a0a0a" stroke-width="1.0" fill="none" stroke-linejoin="round" stroke-linecap="butt"/>
<path d="M559,1057 L569,1058.2" stroke="#0a0a0a" stroke-width="3.4" fill="none" stroke-linejoin="round" stroke-linecap="round"/>
</svg>
</body></html>
